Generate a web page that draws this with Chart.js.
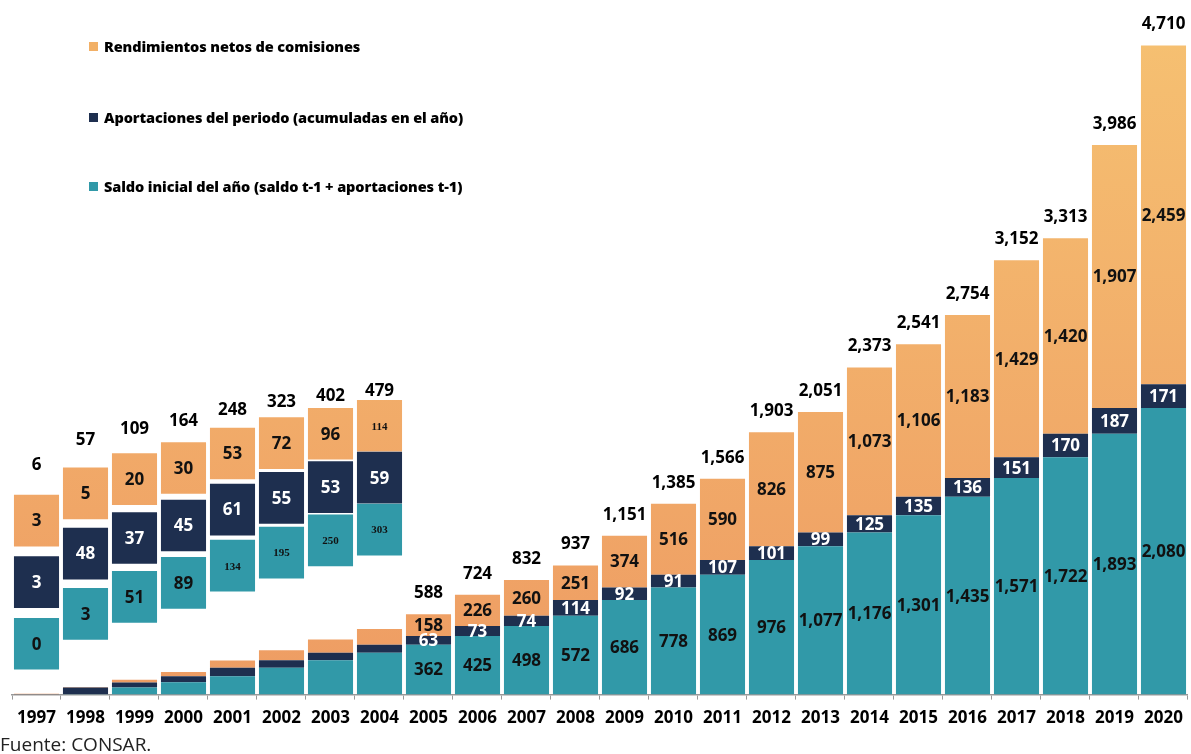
<!DOCTYPE html>
<html>
<head>
<meta charset="utf-8">
<script src="https://cdn.jsdelivr.net/npm/chart.js@4.4.0/dist/chart.umd.min.js"></script>
<style>
body { margin: 0; background: #fff; }
#wrap { position: relative; width: 1191px; height: 754px; }
#legend { position: absolute; left: 89px; top: 0; font: 800 14.5px 'Open Sans'; color: #000; letter-spacing: -0.1px; }
.item { position: absolute; left: 0; white-space: nowrap; display: flex; align-items: center; }
.sw { width: 9px; height: 9px; margin-right: 6px; }
#fuente { position: absolute; left: 0; top: 731px; font: 400 19px 'Open Sans'; color: #222; }
</style>
</head>
<body>
<div id="wrap">
  <canvas id="chart" width="1191" height="754"></canvas>
  <div id="legend"></div>
  <div id="fuente">Fuente: CONSAR.</div>
</div>
<script>
const years = ["1997","1998","1999","2000","2001","2002","2003","2004","2005","2006","2007","2008",
               "2009","2010","2011","2012","2013","2014","2015","2016","2017","2018","2019","2020"];
const saldo = [0,3,51,89,134,195,250,303,362,425,498,572,686,778,869,976,1077,1176,1301,1435,1571,1722,1893,2080];
const aportaciones = [3,48,37,45,61,55,53,59,63,73,74,114,92,91,107,101,99,125,135,136,151,170,187,171];
const rendimientos = [3,5,20,30,53,72,96,114,158,226,260,251,374,516,590,826,875,1073,1106,1183,1429,1420,1907,2459];
const totales = [6,57,109,164,248,323,402,479,588,724,832,937,1151,1385,1566,1903,2051,2373,2541,2754,3152,3313,3986,4710];

const nombres = ["Saldo inicial del año (saldo t-1 + aportaciones t-1)",
                 "Aportaciones del periodo (acumuladas en el año)",
                 "Rendimientos netos de comisiones"];

// first years are too small to read, so they get an enlarged view above
const ZOOMED = 8;
const Y_MAX = 5040;
const BOX = 375;

const TEAL = "#3199a8";
const NAVY = "#1e2f4f";

function orange(context) {
    const area = context.chart.chartArea;
    if (!area) return "#f0a866";
    const g = context.chart.ctx.createLinearGradient(0, area.bottom, 0, area.top);
    g.addColorStop(0, "#ee9c63");
    g.addColorStop(1, "#f6c272");
    return g;
}

function mainOnly(arr) {
    return arr.map((v, i) => i < ZOOMED ? null : v);
}
function zoomOnly(arr) {
    return arr.map((v, i) => i < ZOOMED ? v : null);
}

// box k (0 = saldo, 1 = aportaciones, 2 = rendimientos) of the enlarged view
function zoomBoxes(k) {
    return years.map((y, i) => {
        if (i >= ZOOMED) return null;
        const base = 77 + 42.6 * Math.sqrt(totales[i]);
        const gap = 72 - 10 * i;
        const lo = base + k * (BOX + gap);
        return [lo, lo + BOX];
    });
}

const fmt = v => v.toLocaleString("en-US");

const labelPlugin = {
    id: "barLabels",
    afterDatasetsDraw(chart) {
        const ctx = chart.ctx;
        ctx.save();
        ctx.textAlign = "center";
        ctx.textBaseline = "middle";
        chart.data.datasets.forEach((ds, di) => {
            const meta = chart.getDatasetMeta(di);
            meta.data.forEach((bar, i) => {
                const v = ds.labels[i];
                if (v === null || v === undefined) return;
                const small = ds.zoom && v >= 100;
                ctx.font = small ? "bold 11px 'Liberation Serif'" : "bold 17px 'Open Sans'";
                ctx.fillStyle = ds.labelColor;
                ctx.fillText(fmt(v), bar.x, (bar.y + bar.base) / 2 + 1);
            });
        });
        // totals above each column
        const topMain = chart.getDatasetMeta(2).data;
        const topZoom = chart.getDatasetMeta(5).data;
        ctx.font = "bold 17px 'Open Sans'";
        ctx.fillStyle = "#000";
        totales.forEach((t, i) => {
            const bar = i < ZOOMED ? topZoom[i] : topMain[i];
            const lift = i < ZOOMED ? 30 - 3 * i : 21;
            ctx.fillText(fmt(t), bar.x, bar.y - lift);
        });
        ctx.restore();
    }
};

const common = { barPercentage: 0.92, categoryPercentage: 1.0, borderWidth: 0 };

const datasets = [
    { label: nombres[0], data: saldo, backgroundColor: TEAL, labels: mainOnly(saldo), labelColor: "#111", ...common },
    { label: nombres[1], data: aportaciones, backgroundColor: NAVY, labels: mainOnly(aportaciones), labelColor: "#fff", ...common },
    { label: nombres[2], data: rendimientos, backgroundColor: orange, labels: mainOnly(rendimientos), labelColor: "#111", ...common },
    { label: "z0", data: zoomBoxes(0), backgroundColor: TEAL, labels: zoomOnly(saldo), labelColor: "#111", zoom: true, yAxisID: "y2", grouped: false, ...common },
    { label: "z1", data: zoomBoxes(1), backgroundColor: NAVY, labels: zoomOnly(aportaciones), labelColor: "#fff", zoom: true, yAxisID: "y2", grouped: false, ...common },
    { label: "z2", data: zoomBoxes(2), backgroundColor: orange, labels: zoomOnly(rendimientos), labelColor: "#111", zoom: true, yAxisID: "y2", grouped: false, ...common }
];

new Chart(document.getElementById("chart"), {
    type: "bar",
    data: { labels: years, datasets: datasets },
    options: {
        responsive: false,
        animation: false,
        layout: { padding: { left: 12, right: 3, top: 0, bottom: 18 } },
        plugins: { legend: { display: false }, tooltip: { enabled: false } },
        scales: {
            x: {
                stacked: true,
                grid: { drawOnChartArea: false, tickLength: 5, color: "#999", offset: true },
                border: { color: "#999", width: 1.5 },
                ticks: { color: "#000", font: { family: "Open Sans", weight: "700", size: 17 }, padding: 8, maxRotation: 0, autoSkip: false }
            },
            y: { stacked: true, min: 0, max: Y_MAX, display: false },
            y2: { stacked: false, min: 0, max: Y_MAX, display: false }
        }
    },
    plugins: [labelPlugin]
});

// legend, top left, largest series first
const legend = document.getElementById("legend");
const legendRows = [[nombres[2], "#f2b066", 47], [nombres[1], NAVY, 118], [nombres[0], TEAL, 187]];
legendRows.forEach(([txt, col, cy]) => {
    const d = document.createElement("div");
    d.className = "item";
    d.style.top = (cy - 10) + "px";
    d.innerHTML = '<span class="sw" style="background:' + col + '"></span>' + txt;
    legend.appendChild(d);
});
</script>
</body>
</html>
